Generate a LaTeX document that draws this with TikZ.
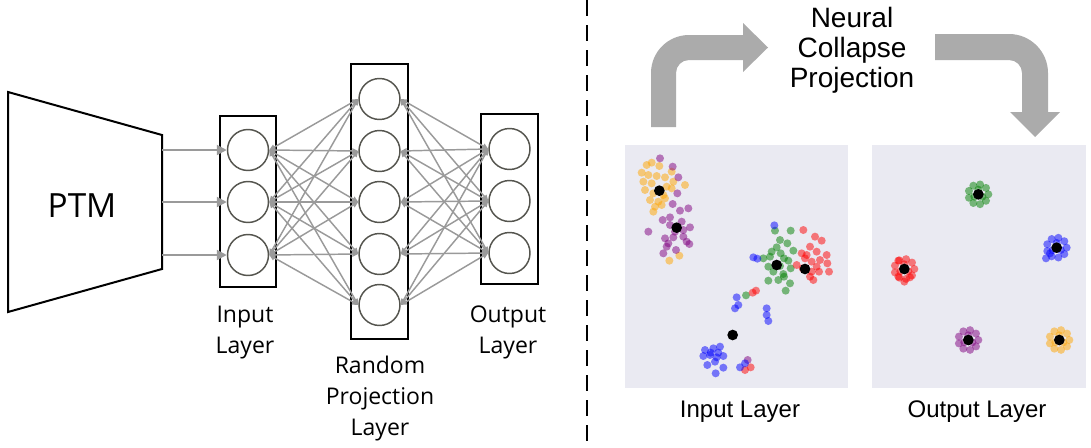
\documentclass[tikz,border=0pt]{standalone}
\usepackage{fontspec}
\setmainfont{Liberation Sans}
\newfontfamily\osans{Open Sans}
\usetikzlibrary{arrows.meta,calc}
\definecolor{lgray}{HTML}{9A9A9A}
\definecolor{bigarrow}{HTML}{ABABAB}
\definecolor{panelbg}{HTML}{EAEAF2}
\definecolor{ringc}{HTML}{55554F}
\definecolor{cOrange}{HTML}{FFA500}
\definecolor{cPurple}{HTML}{800080}
\definecolor{cGreen}{HTML}{008000}
\definecolor{cBlue}{HTML}{0000FF}
\definecolor{cRed}{HTML}{FF0000}
\newcommand\ncpts[2]{\foreach \p in {#2} \fill[dotpt,#1] \p circle[radius=12];}
\newcommand\nccluster[3]{%
  \foreach \a in {0,40,...,320} \fill[dotpt,#1] (#2,#3) ++(\a:30) circle[radius=12];
  \foreach \a in {30,150,270} \fill[dotpt,#1] (#2,#3) ++(\a:14) circle[radius=12];
  \fill[black] (#2,#3) circle[radius=16];}
\begin{document}
\begin{tikzpicture}[x=0.75pt,y=-0.75pt,
  neuron/.style={circle,draw=ringc,line width=1.1pt,fill=white,minimum size=30.75pt,inner sep=0pt},
  layerbox/.style={draw=black,line width=1.5pt,inner sep=0pt},
  conn/.style={draw=lgray,line width=1.1pt,{Triangle[length=4.5pt,width=4pt]}-{Triangle[length=4.5pt,width=4pt]}},
  feed/.style={draw=lgray,line width=1.5pt,-{Triangle[length=7.5pt,width=7.5pt]}},
  netlabel/.style={font=\osans\fontsize{17.25}{23.25}\selectfont,align=center,anchor=base,inner sep=0pt},
  plotlabel/.style={font=\fontsize{18}{21}\selectfont,anchor=base,inner sep=0pt},
  dotpt/.style={fill opacity=0.5},
  bigarr/.style={fill=bigarrow}]
\useasboundingbox (0,0) rectangle (1091,447);

% ---------- left: network ----------
\draw[line width=1.5pt,line join=miter] (8,92) -- (162,135) -- (162,269) -- (8,312) -- cycle;
\node[font=\osans\fontsize{25}{30}\selectfont,anchor=base,inner sep=0pt] (ptm) at (82,217) {PTM};
\coordinate (p1) at (162,150);
\coordinate (p2) at (162,202);
\coordinate (p3) at (162,255);

\node[layerbox,minimum width=42pt,minimum height=128.25pt] (ibox) at (248,201.5) {};
\node[layerbox,minimum width=42.75pt,minimum height=206.25pt] (rbox) at (379.5,201.5) {};
\node[layerbox,minimum width=42.75pt,minimum height=127.5pt] (obox) at (509.5,199) {};

\foreach \i/\y in {1/150,2/202,3/255} \node[neuron] (i\i) at (248,\y) {};
\foreach \i/\y in {1/99,2/151,3/202,4/254,5/305} \node[neuron] (r\i) at (379.5,\y) {};
\foreach \i/\y in {1/149,2/201,3/253} \node[neuron] (o\i) at (509.5,\y) {};

\foreach \a in {1,2,3} \draw[feed] (p\a) -- (i\a.west);
\foreach \a in {1,2,3} \foreach \b in {1,...,5} \draw[conn] (i\a.east) -- (r\b.west);
\foreach \a in {1,...,5} \foreach \b in {1,2,3} \draw[conn] (r\a.east) -- (o\b.west);

\node[netlabel] (lin) at (245,353) {Input\\Layer};
\node[netlabel] (lrand) at (380,435) {Random\\Projection\\Layer};
\node[netlabel] (lout) at (508,353) {Output\\Layer};

% ---------- divider ----------
\draw[line width=1.5pt,dash pattern=on 12pt off 6.75pt] (587,0) -- (587,447);

% ---------- big arrows ----------
\fill[bigarr] (651,127) -- (651,73) .. controls (651,52) and (668,35) .. (689,35)
  -- (743,35) -- (743,23) -- (768,47.5) -- (743,72) -- (743,60) -- (689,60)
  .. controls (681.8,60) and (676,65.8) .. (676,73) -- (676,127) -- cycle;
\fill[bigarr] (935,34) -- (1009,34) .. controls (1030.5,34) and (1048,51.5) .. (1048,73)
  -- (1048,112) -- (1060,112) -- (1035,137) -- (1010,112) -- (1022,112) -- (1022,73)
  .. controls (1022,65.8) and (1016.2,60) .. (1009,60) -- (935,60) -- cycle;
\node[font=\fontsize{21}{22.5}\selectfont,align=center,anchor=base,inner sep=0pt] (ncp) at (852,87) {Neural\\Collapse\\Projection};

% ---------- panels ----------
\fill[panelbg] (625,145) rectangle (848,388);
\fill[panelbg] (872,145) rectangle (1086,388);
\node[plotlabel] (pin) at (740,417) {Input Layer};
\node[plotlabel] (pout) at (977,417) {Output Layer};

\begin{scope}[shift={(620,140)},scale=1/3]
\ncpts{cOrange}{(80,75),(95,68),(118,78),(65,98),(85,105),(110,108),(135,112),(155,95),(160,125),(70,125),(95,130),(140,140),(75,150),(100,160),(130,165),(155,145),(195,135),(90,180),(115,185),(135,175),(105,200),(125,195),(100,215),(148,362),(178,347)}
\ncpts{cPurple}{(120,55),(158,80),(175,112),(172,160),(158,192),(180,212),(205,205),(128,240),(150,232),(185,245),(210,262),(85,275),(165,275),(135,295),(160,292),(190,290),(200,305),(145,310),(140,320),(208,312),(130,340),(168,330),(150,255),(190,270),(383,660)}
\ncpts{cGreen}{(465,272),(512,272),(480,300),(502,310),(470,322),(520,332),(455,335),(482,340),(430,355),(450,350),(492,355),(505,362),(445,380),(460,395),(490,402),(512,385),(445,422),(475,420),(492,410),(510,430),(497,452),(480,378),(378,466)}
\ncpts{cRed}{(550,270),(585,290),(605,302),(570,320),(545,340),(590,335),(620,345),(555,355),(575,365),(600,360),(530,375),(590,380),(622,370),(575,395),(597,395),(627,395),(570,410),(580,420),(548,385),(560,345),(398,458),(408,452),(375,690),(392,682)}
\ncpts{cBlue}{(463,256),(400,352),(412,356),(350,472),(355,495),(345,505),(440,505),(440,525),(445,543),(255,630),(280,625),(300,620),(270,645),(290,652),(250,648),(310,648),(285,665),(262,675),(310,683),(287,700),(272,638),(295,638),(360,682),(375,670)}
\foreach \p in {(118,152),(170,263),(470,375),(555,387),(338,585)} \fill[black] \p circle[radius=16];
\end{scope}

\begin{scope}[shift={(865,140)},scale=1/3]
\ncpts{cRed}{(100,362),(135,412),(118,425),(100,410)}
\nccluster{cRed}{118}{387}
\nccluster{cGreen}{340}{163}
\ncpts{cBlue}{(543,355),(555,340)}
\nccluster{cBlue}{575}{323}
\nccluster{cPurple}{310}{600}
\nccluster{cOrange}{583}{600}
\end{scope}
\end{tikzpicture}
\end{document}
